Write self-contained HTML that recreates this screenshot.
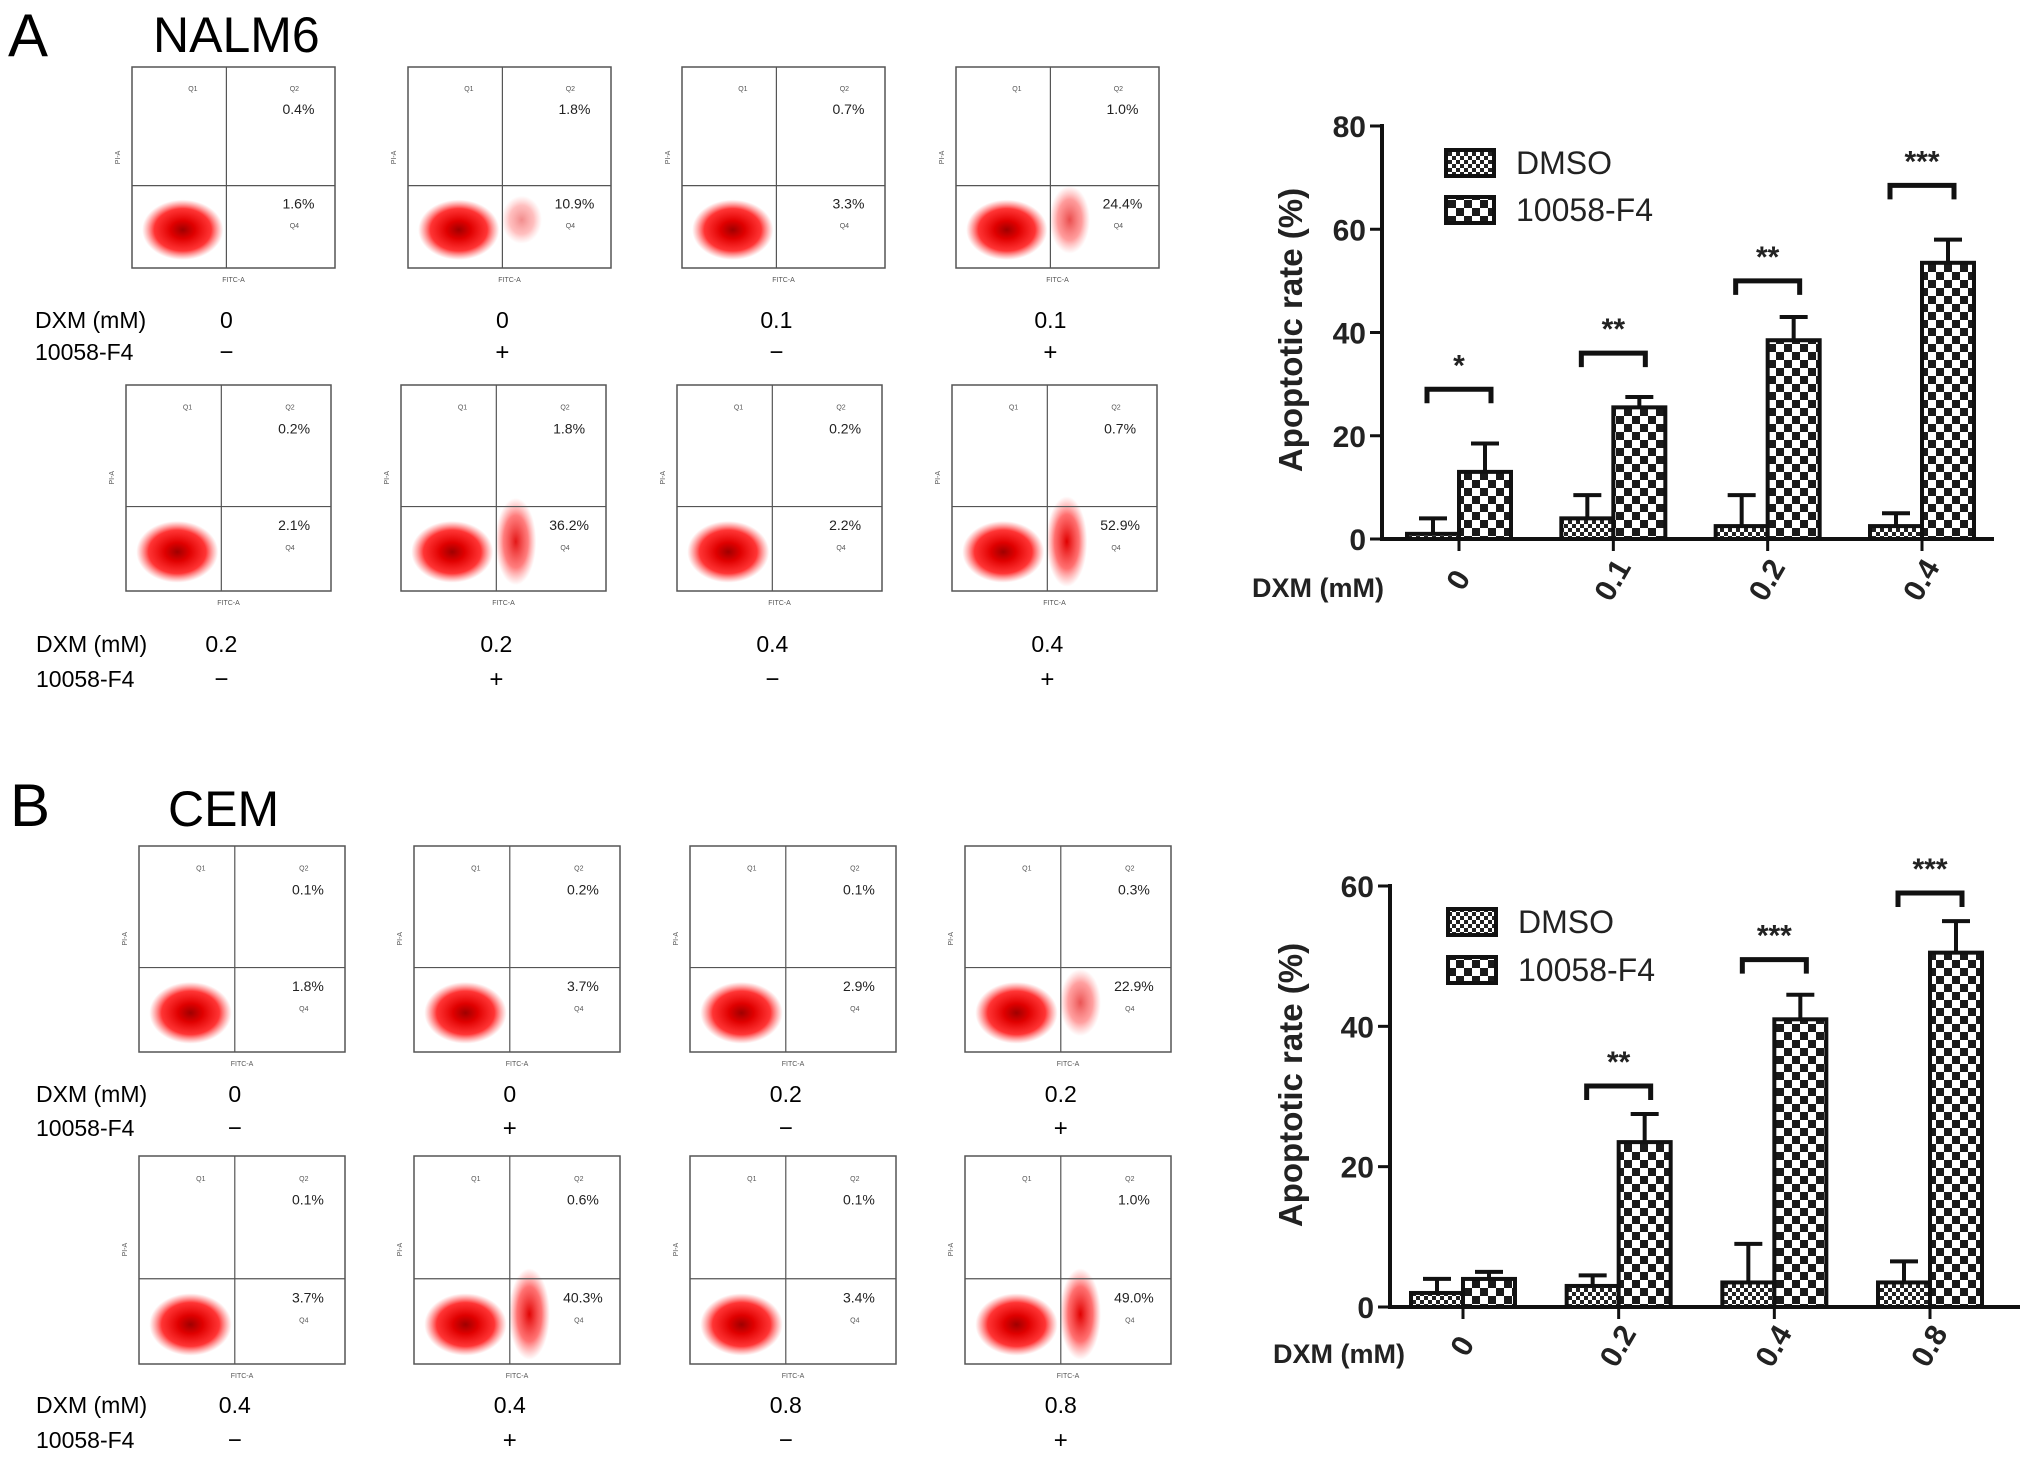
<!DOCTYPE html>
<html><head><meta charset="utf-8"><style>
html,body{margin:0;padding:0;background:#fff}
svg{display:block;font-family:"Liberation Sans",Arial,sans-serif}
</style></head><body>
<svg id="fig" width="2031" height="1465" viewBox="0 0 2031 1465" xmlns="http://www.w3.org/2000/svg">
<defs>
<pattern id="pDMSO" width="8" height="8" patternUnits="userSpaceOnUse"><rect width="8" height="8" fill="#fff"/><rect width="4" height="4" fill="#222"/><rect x="4" y="4" width="4" height="4" fill="#222"/></pattern>
<pattern id="pF4" width="16" height="16" patternUnits="userSpaceOnUse"><rect width="16" height="16" fill="#fff"/><rect width="8" height="8" fill="#1a1a1a"/><rect x="8" y="8" width="8" height="8" fill="#1a1a1a"/></pattern>
<radialGradient id="blob"><stop offset="0" stop-color="#a00000"/><stop offset="0.3" stop-color="#e00000"/><stop offset="0.7" stop-color="#f11" stop-opacity="0.85"/><stop offset="1" stop-color="#f44" stop-opacity="0"/></radialGradient>
<radialGradient id="blob2"><stop offset="0" stop-color="#e00000"/><stop offset="0.6" stop-color="#f33" stop-opacity="0.7"/><stop offset="1" stop-color="#f66" stop-opacity="0"/></radialGradient>
</defs>
<text x="8" y="56" font-size="60">A</text>
<text x="153" y="52" font-size="50">NALM6</text>
<text x="10" y="826" font-size="60">B</text>
<text x="168" y="826" font-size="50">CEM</text>
<g id="flows"></g>
<g id="chartA"></g>
<g id="chartB"></g>
</svg>
<script>
// ---------- flow cytometry panel data ----------
const flowA_q2 = ["0.4%","1.8%","0.7%","1.0%","0.2%","1.8%","0.2%","0.7%"];
const flowA_q4 = ["1.6%","10.9%","3.3%","24.4%","2.1%","36.2%","2.2%","52.9%"];
const flowA_dxm = ["0","0","0.1","0.1","0.2","0.2","0.4","0.4"];
const flowB_q2 = ["0.1%","0.2%","0.1%","0.3%","0.1%","0.6%","0.1%","1.0%"];
const flowB_q4 = ["1.8%","3.7%","2.9%","22.9%","3.7%","40.3%","3.4%","49.0%"];
const flowB_dxm = ["0","0","0.2","0.2","0.4","0.4","0.8","0.8"];
const flowTreat = ["−","+","−","+","−","+","−","+"];

// ---------- bar chart data ----------
const catsA = ["0","0.1","0.2","0.4"];
const dmsoA = [1,4,2.5,2.5];
const dmsoErrA = [3,4.5,6,2.5];
const f4A = [13,25.5,38.5,53.5];
const f4ErrA = [5.5,2,4.5,4.5];
const sigA = ["*","**","**","***"];
const bracketA = [29,36,50,68.5];
const ticksA = [0,20,40,60,80];

const catsB = ["0","0.2","0.4","0.8"];
const dmsoB = [2,3,3.5,3.5];
const dmsoErrB = [2,1.5,5.5,3];
const f4B = [4,23.5,41,50.5];
const f4ErrB = [1,4,3.5,4.5];
const sigB = ["","**","***","***"];
const bracketB = [null,31.5,49.5,59];
const ticksB = [0,20,40,60];

const NS="http://www.w3.org/2000/svg";
function mk(tag, attrs, parent, text){
  const e=document.createElementNS(NS,tag);
  for(const k in attrs) e.setAttribute(k,attrs[k]);
  if(text!==undefined) e.textContent=text;
  parent.appendChild(e); return e;
}

// ---------- flow plots ----------
const flows=document.getElementById('flows');
function flowRow(xs, y, w, h, idx0, q2, q4, dxm, labY1, labY2, labX){
  const t1=mk('text',{x:labX,y:labY1+8,'font-size':23},flows,'DXM (mM)');
  
  
  const t2=mk('text',{x:labX,y:labY2+8,'font-size':23},flows,'10058-F4');
  
  
  xs.forEach((x,j)=>{
    const i=idx0+j;
    const g=mk('g',{},flows);
    
    
    const qx=x+0.465*w, qy=y+0.59*h;
    const strength=parseFloat(q4[i])/55;
    mk('rect',{x:x,y:y,width:w,height:h,fill:'#fff',stroke:'#555','stroke-width':1.5},g);
    mk('ellipse',{cx:x+0.25*w,cy:y+0.81*h,rx:0.2*w,ry:0.15*h,fill:'url(#blob)'},g);
    if(strength>0.15){
      mk('ellipse',{cx:x+0.56*w,cy:y+0.76*h,rx:0.1*w,ry:0.2*h*Math.min(1.1,strength+0.4),fill:'url(#blob2)',opacity:Math.min(1,strength+0.25)},g);
    }
    mk('line',{x1:qx,y1:y,x2:qx,y2:y+h,stroke:'#555','stroke-width':1.2},g);
    mk('line',{x1:x,y1:qy,x2:x+w,y2:qy,stroke:'#555','stroke-width':1.2},g);
    mk('text',{x:x+0.3*w,y:y+0.12*h,'font-size':7,fill:'#555','text-anchor':'middle'},g,'Q1');
    mk('text',{x:x+0.8*w,y:y+0.12*h,'font-size':7,fill:'#555','text-anchor':'middle'},g,'Q2');
    mk('text',{x:x+0.8*w,y:y+0.8*h,'font-size':7,fill:'#555','text-anchor':'middle'},g,'Q4');
    mk('text',{x:x+w/2,y:y+h+14,'font-size':7,fill:'#555','text-anchor':'middle'},g,'FITC-A');
    mk('text',{x:x-12,y:y+h*0.45,'font-size':7,fill:'#555','text-anchor':'middle',transform:`rotate(-90 ${x-12} ${y+h*0.45})`},g,'PI-A');
    const a=mk('text',{x:x+0.82*w,y:y+0.21*h+5,'font-size':14,'text-anchor':'middle',fill:'#222'},g,q2[i]);
    
    
    const b=mk('text',{x:x+0.82*w,y:y+0.68*h+5,'font-size':14,'text-anchor':'middle',fill:'#222'},g,q4[i]);
    
    
    const d=mk('text',{x:qx,y:labY1+8,'font-size':23,'text-anchor':'middle'},flows,dxm[i]);
    
    
    const tr=mk('text',{x:qx,y:labY2+8,'font-size':24,'text-anchor':'middle'},flows,flowTreat[i]);
    
    
  });
}
flowRow([132,408,682,956],67,203,201,0,flowA_q2,flowA_q4,flowA_dxm,320,352,35);
flowRow([126,401,677,952],385,205,206,4,flowA_q2,flowA_q4,flowA_dxm,644,679,36);
flowRow([139,414,690,965],846,206,206,0,flowB_q2,flowB_q4,flowB_dxm,1094,1128,36);
flowRow([139,414,690,965],1156,206,208,4,flowB_q2,flowB_q4,flowB_dxm,1405,1440,36);

// ---------- bar charts ----------
function barChart(gid, o){
  const g=document.getElementById(gid);
  const yS=v=>o.y0-(v/o.max)*(o.y0-o.yTop);
  const xC=i=>o.centers[0]+i*(o.centers[3]-o.centers[0])/3;
  const bw=52;
  const axY=mk('line',{x1:o.ax,y1:o.yTop-2,x2:o.ax,y2:o.y0,stroke:'#111','stroke-width':4},g);
  
  
  const axX=mk('line',{x1:o.ax-2,y1:o.y0,x2:o.xEnd,y2:o.y0,stroke:'#111','stroke-width':4},g);
  
  
  o.ticks.forEach(t=>{
    mk('line',{x1:o.ax-12,y1:yS(t),x2:o.ax,y2:yS(t),stroke:'#111','stroke-width':3},g);
    const tl=mk('text',{x:o.ax-16,y:yS(t)+11,'font-size':30,'font-weight':'bold','text-anchor':'end',fill:'#222'},g,String(t));
    
    
  });
  const yt=mk('text',{x:o.titleX,y:o.titleY,'font-size':33,'font-weight':'bold','text-anchor':'middle',fill:'#222',transform:`rotate(-90 ${o.titleX} ${o.titleY})`},g,'Apoptotic rate (%)');
  
  
  const xl=mk('text',{x:o.dxmX,y:o.dxmY,'font-size':27,'font-weight':'bold',fill:'#222'},g,'DXM (mM)');
  
  
  o.cats.forEach((c,i)=>{
    const cx=xC(i);
    mk('line',{x1:cx,y1:o.y0,x2:cx,y2:o.y0+12,stroke:'#111','stroke-width':3},g);
    const cl=mk('text',{x:cx+8,y:o.dxmY-12,'font-size':30,'font-weight':'bold','text-anchor':'middle',fill:'#222',transform:`rotate(-60 ${cx+8} ${o.dxmY-12})`},g,c);
    
    
    const dv=o.dmso[i], de=o.dmsoErr[i];
    mk('line',{x1:cx-bw/2,y1:yS(dv),x2:cx-bw/2,y2:yS(dv+de),stroke:'#111','stroke-width':4},g);
    mk('line',{x1:cx-bw/2-14,y1:yS(dv+de),x2:cx-bw/2+14,y2:yS(dv+de),stroke:'#111','stroke-width':4},g);
    const r1=mk('rect',{x:cx-bw,y:yS(dv),width:bw,height:o.y0-yS(dv),fill:'url(#pDMSO)',stroke:'#111','stroke-width':4},g);
    
    
    const fv=o.f4[i], fe=o.f4Err[i];
    mk('line',{x1:cx+bw/2,y1:yS(fv),x2:cx+bw/2,y2:yS(fv+fe),stroke:'#111','stroke-width':4},g);
    mk('line',{x1:cx+bw/2-14,y1:yS(fv+fe),x2:cx+bw/2+14,y2:yS(fv+fe),stroke:'#111','stroke-width':4},g);
    const r2=mk('rect',{x:cx,y:yS(fv),width:bw,height:o.y0-yS(fv),fill:'url(#pF4)',stroke:'#111','stroke-width':4},g);
    
    
    if(o.bracket[i]!==null){
      const by=yS(o.bracket[i]);
      const br=mk('path',{d:`M${cx-bw/2-6} ${by+14} V${by} H${cx+bw/2+6} V${by+14}`,fill:'none',stroke:'#111','stroke-width':5},g);
      
      
      const st=mk('text',{x:cx,y:by-14,'font-size':30,'font-weight':'bold','text-anchor':'middle',fill:'#222'},g,o.sig[i]);
      
      
    }
  });
  [['DMSO','url(#pDMSO)',o.legY1],['10058-F4','url(#pF4)',o.legY2]].forEach(([n,f,ly])=>{
    const lg=mk('g',{},g);
    
    
    mk('rect',{x:o.legX,y:ly,width:48,height:26,fill:f,stroke:'#111','stroke-width':4},lg);
    mk('text',{x:o.legX+70,y:ly+24,'font-size':32,fill:'#222'},lg,n);
  });
}
barChart('chartA',{ax:1382,yTop:126,y0:539,xEnd:1994,max:80,ticks:ticksA,centers:[1459,1614,1769,1922],
  cats:catsA,dmso:dmsoA,dmsoErr:dmsoErrA,f4:f4A,f4Err:f4ErrA,sig:sigA,bracket:bracketA,
  titleX:1302,titleY:330,dxmX:1252,dxmY:597,legX:1446,legY1:150,legY2:197});
barChart('chartB',{ax:1390,yTop:886,y0:1307,xEnd:2020,max:60,ticks:ticksB,centers:[1463,1619,1774,1930],
  cats:catsB,dmso:dmsoB,dmsoErr:dmsoErrB,f4:f4B,f4Err:f4ErrB,sig:sigB,bracket:bracketB,
  titleX:1302,titleY:1085,dxmX:1273,dxmY:1363,legX:1448,legY1:909,legY2:957});
</script>
</body></html>
